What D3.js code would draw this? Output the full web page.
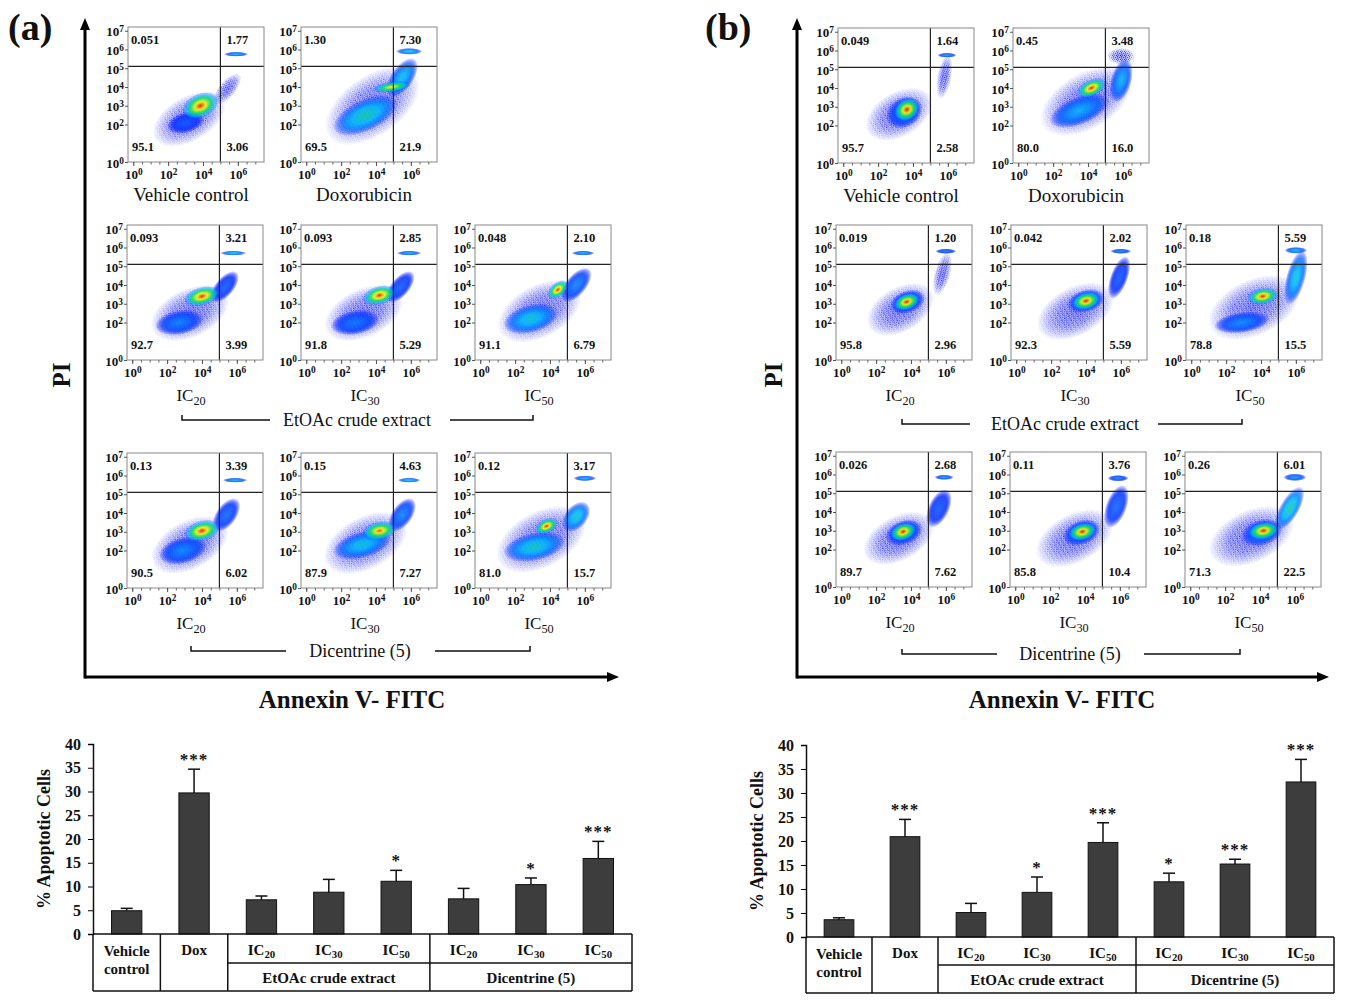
<!DOCTYPE html>
<html>
<head>
<meta charset="utf-8">
<script src="https://cdn.jsdelivr.net/npm/d3@7"></script>
<style>
body { margin: 0; background: #fff; }
svg text { font-family: "Liberation Serif", "Times New Roman", serif; fill: #111; }
</style>
</head>
<body>
<div id="chart"></div>
<script>
// ---------- data ----------
const flowNames = ["Vehicle control", "Doxorubicin", "IC|20", "IC|30", "IC|50", "IC|20", "IC|30", "IC|50"];

// quadrant percentages: [upper-left, upper-right, lower-left, lower-right]
const quadA = [
  ["0.051", "1.77", "95.1", "3.06"],
  ["1.30", "7.30", "69.5", "21.9"],
  ["0.093", "3.21", "92.7", "3.99"],
  ["0.093", "2.85", "91.8", "5.29"],
  ["0.048", "2.10", "91.1", "6.79"],
  ["0.13", "3.39", "90.5", "6.02"],
  ["0.15", "4.63", "87.9", "7.27"],
  ["0.12", "3.17", "81.0", "15.7"]
];
const quadB = [
  ["0.049", "1.64", "95.7", "2.58"],
  ["0.45", "3.48", "80.0", "16.0"],
  ["0.019", "1.20", "95.8", "2.96"],
  ["0.042", "2.02", "92.3", "5.59"],
  ["0.18", "5.59", "78.8", "15.5"],
  ["0.026", "2.68", "89.7", "7.62"],
  ["0.11", "3.76", "85.8", "10.4"],
  ["0.26", "6.01", "71.3", "22.5"]
];

// density clouds: [log10 x, log10 y, spread x, spread y (decades), tilt deg, peak density 0..1]
const cloudsA = [
  [[3.2, 2.3, 2.3, 1.2, -30, 0], [5.4, 3.9, 1.1, 0.45, -50, 0], [3.0, 2.1, 1.1, 0.55, -15, 0.12], [3.85, 3.0, 1.1, 0.65, -25, 1.0], [5.9, 5.75, 0.7, 0.13, 0, 0.3]],
  [[3.8, 3.0, 3.1, 1.6, -35, 0], [3.4, 2.5, 2.0, 0.85, -25, 0.45], [5.5, 4.5, 1.3, 0.6, -55, 0.35], [4.9, 4.0, 1.1, 0.28, -8, 0.85], [5.9, 5.9, 0.75, 0.18, 0, 0.35]],
  [[3.3, 2.5, 2.4, 1.3, -25, 0], [2.7, 2.0, 1.4, 0.65, -10, 0.2], [5.3, 3.9, 1.1, 0.5, -50, 0.12], [4.0, 3.4, 1.05, 0.5, -15, 1.0], [5.8, 5.7, 0.75, 0.13, 0, 0.35]],
  [[3.3, 2.5, 2.4, 1.3, -25, 0], [2.8, 2.0, 1.4, 0.65, -10, 0.18], [5.4, 3.9, 1.1, 0.5, -50, 0.12], [4.2, 3.45, 1.0, 0.5, -15, 1.0], [5.9, 5.7, 0.7, 0.13, 0, 0.3]],
  [[3.4, 2.6, 2.6, 1.4, -28, 0], [2.9, 2.2, 1.6, 0.75, -15, 0.4], [5.5, 4.0, 1.2, 0.55, -50, 0.2], [4.45, 3.75, 0.7, 0.38, -40, 1.0], [5.9, 5.7, 0.65, 0.13, 0, 0.3]],
  [[3.3, 2.3, 2.4, 1.3, -28, 0], [2.9, 2.0, 1.4, 0.7, -15, 0.22], [5.4, 3.9, 1.1, 0.55, -55, 0.15], [4.0, 3.05, 1.05, 0.55, -15, 1.0], [5.9, 5.75, 0.7, 0.13, 0, 0.3]],
  [[3.4, 2.4, 2.6, 1.4, -28, 0], [3.2, 2.3, 1.7, 0.7, -15, 0.38], [5.5, 3.9, 1.1, 0.55, -55, 0.2], [4.2, 3.05, 1.0, 0.5, -10, 0.95], [5.9, 5.75, 0.65, 0.13, 0, 0.35]],
  [[3.5, 2.6, 2.8, 1.5, -28, 0], [3.1, 2.2, 1.8, 0.75, -12, 0.42], [5.5, 3.8, 1.0, 0.6, -50, 0.4], [3.8, 3.3, 0.7, 0.38, -25, 1.0], [6.0, 5.85, 0.65, 0.15, 0, 0.3]]
];
const cloudsB = [
  [[3.2, 2.6, 2.1, 1.2, -30, 0], [5.8, 4.6, 0.4, 1.2, 10, 0], [3.5, 2.7, 1.1, 0.8, -30, 0.2], [3.65, 2.85, 0.8, 0.6, -35, 1.0], [5.95, 5.75, 0.55, 0.13, 0, 0.25]],
  [[3.9, 3.3, 2.9, 1.5, -30, 0], [3.5, 2.8, 1.8, 0.75, -22, 0.3], [5.9, 5.7, 0.8, 0.45, 0, 0], [5.9, 4.4, 0.6, 1.2, 15, 0.3], [4.2, 4.0, 0.9, 0.45, -25, 1.0]],
  [[3.4, 2.7, 2.1, 1.2, -30, 0], [5.8, 4.6, 0.45, 1.2, 15, 0], [3.8, 3.1, 1.05, 0.6, -20, 0.2], [3.75, 3.1, 0.8, 0.45, -20, 1.0], [6.0, 5.8, 0.6, 0.14, 0, 0.18]],
  [[3.4, 2.6, 2.4, 1.3, -28, 0], [5.9, 4.4, 0.5, 1.2, 20, 0.12], [4.0, 3.15, 1.1, 0.6, -15, 0.25], [4.0, 3.15, 0.85, 0.48, -15, 1.0], [6.0, 5.8, 0.6, 0.14, 0, 0.22]],
  [[3.6, 2.8, 2.8, 1.5, -25, 0], [2.9, 2.0, 1.6, 0.55, -8, 0.22], [6.0, 4.4, 0.55, 1.5, 15, 0.38], [4.1, 3.4, 0.9, 0.45, -10, 1.0], [6.0, 5.85, 0.65, 0.18, 0, 0.3]],
  [[3.3, 2.6, 2.2, 1.2, -28, 0], [5.6, 4.2, 0.6, 1.1, 25, 0.12], [3.6, 2.9, 1.1, 0.65, -20, 0.2], [3.55, 2.95, 0.8, 0.48, -20, 1.0], [5.9, 5.85, 0.55, 0.14, 0, 0.25]],
  [[3.4, 2.6, 2.4, 1.3, -28, 0], [5.8, 4.3, 0.6, 1.2, 20, 0.15], [3.8, 2.9, 1.1, 0.65, -20, 0.22], [3.85, 2.95, 0.85, 0.48, -15, 1.0], [5.9, 5.8, 0.6, 0.17, 0, 0.2]],
  [[3.5, 2.7, 2.6, 1.4, -25, 0], [5.7, 4.2, 0.55, 1.3, 30, 0.45], [4.1, 2.9, 1.2, 0.7, -15, 0.25], [4.2, 3.0, 0.9, 0.48, -10, 1.0], [6.0, 5.85, 0.65, 0.2, 0, 0.25]]
];

const flowYTicks = [1, 1e2, 1e3, 1e4, 1e5, 1e6, 1e7];
const flowXTicks = [1, 1e2, 1e4, 1e6];
const gateX = 1e5, gateY = Math.pow(10, 5.1);

// bar charts (% apoptotic cells, mean and SD)
const barCats = ["Vehicle control", "Dox", "EtOAc IC20", "EtOAc IC30", "EtOAc IC50", "Dicentrine IC20", "Dicentrine IC30", "Dicentrine IC50"];
const barA = [4.9, 29.7, 7.2, 8.8, 11.1, 7.4, 10.4, 15.9];
const errA = [0.5, 5.0, 0.8, 2.7, 2.3, 2.2, 1.4, 3.6];
const starsA = ["", "***", "", "", "*", "", "*", "***"];
const barB = [3.6, 20.9, 5.1, 9.3, 19.7, 11.5, 15.2, 32.3];
const errB = [0.4, 3.6, 1.9, 3.2, 4.1, 1.8, 1.0, 4.7];
const starsB = ["", "***", "", "*", "***", "*", "***", "***"];
const barTicks = [0, 5, 10, 15, 20, 25, 30, 35, 40];
const tableRow1 = ["", "Dox", "IC|20", "IC|30", "IC|50", "IC|20", "IC|30", "IC|50"];
const tableGroups = [["EtOAc crude extract", 2, 5], ["Dicentrine  (5)", 5, 8]];

// ---------- layout ----------
const flowW = 136, flowH = 135;
const panels = [
  {
    key: "a", letterX: 8, quad: quadA, clouds: cloudsA,
    pos: [[128, 27], [301, 27], [127, 225], [301, 225], [475, 225], [127, 453], [301, 453], [475, 453]],
    arrowX: 85, arrowY: 677, arrowTop: 18, arrowRight: 619, titleX: 352,
    brackets: [
      {y: 420, x1: 182, x2: 270, x3: 450, x4: 533, tx: 357, label: "EtOAc crude extract"},
      {y: 651, x1: 191, x2: 286, x3: 435, x4: 530, tx: 360, label: "Dicentrine (5)"}
    ],
    bar: {left: 93, right: 632, top: 744, bottom: 934, sep: 963, tableBottom: 991, labelX: 50,
      values: barA, errs: errA, stars: starsA}
  },
  {
    key: "b", letterX: 705, quad: quadB, clouds: cloudsB,
    pos: [[838, 28], [1013, 28], [836, 225], [1011, 225], [1186, 225], [836, 452], [1010, 452], [1185, 452]],
    arrowX: 797, arrowY: 677, arrowTop: 18, arrowRight: 1329, titleX: 1062,
    brackets: [
      {y: 424, x1: 902, x2: 970, x3: 1158, x4: 1242, tx: 1065, label: "EtOAc crude extract"},
      {y: 654, x1: 902, x2: 997, x3: 1144, x4: 1240, tx: 1070, label: "Dicentrine (5)"}
    ],
    bar: {left: 806, right: 1334, top: 745, bottom: 937, sep: 965, tableBottom: 993, labelX: 763,
      values: barB, errs: errB, stars: starsB}
  }
];

const svg = d3.select("#chart").append("svg")
  .attr("width", 1345)
  .attr("height", 1002);
const defs = svg.append("defs");

// flow cytometry style pseudo-colour
const jet = d3.scaleLinear()
  .domain([0, 0.3, 0.55, 0.78, 1])
  .range(["#0a10ff", "#00b8ff", "#10e060", "#ffff00", "#ff1000"]);

// scattered dots for the sparse part of a cloud
const dotPat = defs.append("pattern")
  .attr("id", "dots")
  .attr("patternUnits", "userSpaceOnUse")
  .attr("width", 4).attr("height", 4);
[[0.6, 0.7], [2.7, 1.4], [1.5, 3.1], [3.5, 3.4], [0.2, 2.2]].forEach(p => {
  dotPat.append("circle").attr("cx", p[0]).attr("cy", p[1]).attr("r", 0.6).attr("fill", "#1010ff");
});
const fadeW = defs.append("radialGradient").attr("id", "fadeW");
fadeW.append("stop").attr("offset", 0).attr("stop-color", "#fff");
fadeW.append("stop").attr("offset", 0.5).attr("stop-color", "#ddd");
fadeW.append("stop").attr("offset", 1).attr("stop-color", "#000");
defs.append("mask").attr("id", "fadeMask")
  .attr("maskContentUnits", "objectBoundingBox")
  .append("rect").attr("width", 1).attr("height", 1).attr("fill", "url(#fadeW)");
const tint = defs.append("radialGradient").attr("id", "tint");
tint.append("stop").attr("offset", 0).attr("stop-color", "#2030ff").attr("stop-opacity", 0.4);
tint.append("stop").attr("offset", 0.6).attr("stop-color", "#2030ff").attr("stop-opacity", 0.2);
tint.append("stop").attr("offset", 1).attr("stop-color", "#2030ff").attr("stop-opacity", 0);
const baseLine = defs.append("linearGradient").attr("id", "baseLine");
[["0", "#4060ff"], ["0.4", "#00c0e0"], ["0.7", "#20d060"], ["1", "#4060ff"]].forEach(s => {
  baseLine.append("stop").attr("offset", s[0]).attr("stop-color", s[1]);
});

// text with "IC|20" style subscript
function subText(sel, label) {
  const parts = label.split("|");
  sel.text(parts[0]);
  if (parts[1]) {
    sel.append("tspan").attr("dy", "0.3em").attr("font-size", "0.72em").text(parts[1]);
  }
}

function powerLabels(axisG) {
  axisG.selectAll(".tick text").each(function(d) {
    const t = d3.select(this);
    t.text("10");
    t.append("tspan").attr("dy", "-0.45em").attr("font-size", "0.72em").text(Math.round(Math.log10(d)));
  });
}

function flowPlot(g, id, quad, clouds) {
  const x = d3.scaleLog().domain([Math.pow(10, -0.3), Math.pow(10, 7.5)]).range([0, flowW]);
  const y = d3.scaleLog().domain([1, Math.pow(10, 7.2)]).range([flowH, 0]);
  const px = x(10) - x(1), py = y(1) - y(10);

  defs.append("clipPath").attr("id", "clip-" + id)
    .append("rect").attr("width", flowW).attr("height", flowH);
  const body = g.append("g").attr("clip-path", "url(#clip-" + id + ")");

  clouds.forEach((c, i) => {
    const cx = x(Math.pow(10, c[0])), cy = y(Math.pow(10, c[1]));
    const rx = c[2] * px, ry = c[3] * py;
    const rot = "rotate(" + c[4] + "," + cx + "," + cy + ")";
    if (c[5] === 0) {
      body.append("ellipse").attr("cx", cx).attr("cy", cy).attr("rx", rx).attr("ry", ry)
        .attr("transform", rot).attr("fill", "url(#tint)");
      body.append("ellipse").attr("cx", cx).attr("cy", cy).attr("rx", rx).attr("ry", ry)
        .attr("transform", rot).attr("fill", "url(#dots)").attr("mask", "url(#fadeMask)");
    } else {
      const gid = "grad-" + id + "-" + i;
      const grad = defs.append("radialGradient").attr("id", gid);
      const base = 0.88;
      d3.range(0, 1.01, 0.1).forEach(o => {
        const fade = o < 0.6 ? 1 : 1 - Math.pow((o - 0.6) / 0.4, 1.5);
        grad.append("stop")
          .attr("offset", o)
          .attr("stop-color", jet(c[5] * Math.pow(1 - o, 0.75)))
          .attr("stop-opacity", base * fade);
      });
      body.append("ellipse").attr("cx", cx).attr("cy", cy).attr("rx", rx).attr("ry", ry)
        .attr("transform", rot).attr("fill", "url(#" + gid + ")");
    }
  });

  // events piled up on the axis
  body.append("line")
    .attr("x1", x(Math.pow(10, 0.6))).attr("x2", x(Math.pow(10, 5.6)))
    .attr("y1", flowH - 1).attr("y2", flowH - 1)
    .attr("stroke", "url(#baseLine)").attr("stroke-width", 2);

  // quadrant gates
  g.append("line").attr("x1", x(gateX)).attr("x2", x(gateX)).attr("y1", 0).attr("y2", flowH)
    .attr("stroke", "#222").attr("stroke-width", 1.2);
  g.append("line").attr("x1", 0).attr("x2", flowW).attr("y1", y(gateY)).attr("y2", y(gateY))
    .attr("stroke", "#222").attr("stroke-width", 1.2);

  g.append("rect").attr("width", flowW).attr("height", flowH)
    .attr("fill", "none").attr("stroke", "#888").attr("stroke-width", 1);

  // axes
  const yAxis = g.append("g")
    .call(d3.axisLeft(y).tickValues(flowYTicks).tickSize(3).tickPadding(1).tickFormat(""));
  yAxis.select(".domain").remove();
  yAxis.selectAll("line").attr("stroke", "#555");
  yAxis.selectAll("text").attr("font-size", 13).attr("font-weight", "bold").attr("dy", "0.4em");
  powerLabels(yAxis);

  const xMinor = g.append("g").attr("transform", "translate(0," + flowH + ")")
    .call(d3.axisBottom(x).tickValues(d3.range(0, 15).map(k => Math.pow(10, k / 2))).tickSize(2.5).tickFormat(""));
  xMinor.select(".domain").remove();
  xMinor.selectAll("line").attr("stroke", "#666");

  const xAxis = g.append("g").attr("transform", "translate(0," + flowH + ")")
    .call(d3.axisBottom(x).tickValues(flowXTicks).tickSize(4).tickPadding(4).tickFormat(""));
  xAxis.select(".domain").remove();
  xAxis.selectAll("line").attr("stroke", "#555");
  xAxis.selectAll("text").attr("font-size", 13).attr("font-weight", "bold");
  powerLabels(xAxis);

  // quadrant percentages
  const qt = [
    [3, 17, quad[0]], [x(gateX) + 6, 17, quad[1]],
    [4, flowH - 11, quad[2]], [x(gateX) + 6, flowH - 11, quad[3]]
  ];
  qt.forEach(q => {
    g.append("text").attr("x", q[0]).attr("y", q[1])
      .attr("font-size", 12.5).attr("font-weight", "bold").text(q[2]);
  });
}

function barChart(b) {
  const x = d3.scaleBand().domain(d3.range(barCats.length))
    .range([b.left, b.right]).paddingInner(0.55).paddingOuter(0.275);
  const step = x.step();
  const y = d3.scaleLinear().domain([0, 40]).range([b.bottom, b.top]);
  const g = svg.append("g");

  g.selectAll("rect.bar").data(b.values).join("rect")
    .attr("class", "bar")
    .attr("x", (d, i) => x(i)).attr("width", x.bandwidth())
    .attr("y", d => y(d)).attr("height", d => y(0) - y(d))
    .attr("fill", "#3d3d3d").attr("stroke", "#111").attr("stroke-width", 1);

  // upper error bars
  b.values.forEach((v, i) => {
    const cx = x(i) + x.bandwidth() / 2;
    const top = y(v + b.errs[i]);
    g.append("line").attr("x1", cx).attr("x2", cx).attr("y1", y(v)).attr("y2", top)
      .attr("stroke", "#111").attr("stroke-width", 1.5);
    g.append("line").attr("x1", cx - 6).attr("x2", cx + 6).attr("y1", top).attr("y2", top)
      .attr("stroke", "#111").attr("stroke-width", 1.5);
    if (b.stars[i]) {
      g.append("text").attr("x", cx).attr("y", top - 4)
        .attr("text-anchor", "middle").attr("font-size", 17).attr("font-weight", "bold")
        .attr("letter-spacing", 1)
        .text(b.stars[i]);
    }
  });

  const yAxis = g.append("g").attr("transform", "translate(" + b.left + ",0)")
    .call(d3.axisLeft(y).tickValues(barTicks).tickSize(5).tickPadding(7));
  yAxis.select(".domain").attr("stroke", "#111").attr("stroke-width", 1.5);
  yAxis.selectAll("text").attr("font-size", 16).attr("font-weight", "bold");

  g.append("text")
    .attr("transform", "translate(" + b.labelX + "," + ((b.top + b.bottom) / 2) + ") rotate(-90)")
    .attr("text-anchor", "middle").attr("font-size", 18).attr("font-weight", "bold")
    .text("% Apoptotic Cells");

  // category table under the axis
  const edge = i => b.left + i * step;
  const tl = g.append("g").attr("stroke", "#111").attr("stroke-width", 1.5);
  tl.append("line").attr("x1", b.left).attr("x2", b.right).attr("y1", b.bottom).attr("y2", b.bottom);
  tl.append("line").attr("x1", b.left).attr("x2", b.right).attr("y1", b.tableBottom).attr("y2", b.tableBottom);
  tl.append("line").attr("x1", edge(2)).attr("x2", b.right).attr("y1", b.sep).attr("y2", b.sep);
  [0, 1, 2, 5, 8].forEach(i => {
    tl.append("line").attr("x1", edge(i)).attr("x2", edge(i)).attr("y1", b.bottom).attr("y2", b.tableBottom);
  });

  const cx0 = x(0) + x.bandwidth() / 2;
  g.append("text").attr("x", cx0).attr("y", b.bottom + 22).attr("text-anchor", "middle")
    .attr("font-size", 15).attr("font-weight", "bold").text("Vehicle");
  g.append("text").attr("x", cx0).attr("y", b.bottom + 40).attr("text-anchor", "middle")
    .attr("font-size", 15).attr("font-weight", "bold").text("control");
  tableRow1.forEach((lab, i) => {
    if (!lab) return;
    const t = g.append("text").attr("x", x(i) + x.bandwidth() / 2).attr("y", b.bottom + 21)
      .attr("text-anchor", "middle").attr("font-size", 15).attr("font-weight", "bold");
    subText(t, lab);
  });
  tableGroups.forEach(gr => {
    g.append("text").attr("x", (edge(gr[1]) + edge(gr[2])) / 2).attr("y", b.sep + 20)
      .attr("text-anchor", "middle").attr("font-size", 15).attr("font-weight", "bold").text(gr[0]);
  });
}

panels.forEach(p => {
  svg.append("text").attr("x", p.letterX).attr("y", 40)
    .attr("font-size", 38).attr("font-weight", "bold").text("(" + p.key + ")");

  // PI / Annexin arrows
  const ag = svg.append("g");
  ag.append("line").attr("x1", p.arrowX).attr("x2", p.arrowX).attr("y1", p.arrowY + 1.5).attr("y2", p.arrowTop + 10)
    .attr("stroke", "#000").attr("stroke-width", 3);
  ag.append("path").attr("d", d3.line()([[p.arrowX - 5, p.arrowTop + 12], [p.arrowX, p.arrowTop], [p.arrowX + 5, p.arrowTop + 12]]) + "Z")
    .attr("fill", "#000");
  ag.append("line").attr("x1", p.arrowX).attr("x2", p.arrowRight - 10).attr("y1", p.arrowY).attr("y2", p.arrowY)
    .attr("stroke", "#000").attr("stroke-width", 3);
  ag.append("path").attr("d", d3.line()([[p.arrowRight - 12, p.arrowY - 5], [p.arrowRight, p.arrowY], [p.arrowRight - 12, p.arrowY + 5]]) + "Z")
    .attr("fill", "#000");
  svg.append("text")
    .attr("transform", "translate(" + (p.arrowX - 15) + ",375) rotate(-90)")
    .attr("text-anchor", "middle").attr("font-size", 25).attr("font-weight", "bold").text("PI");
  svg.append("text").attr("x", p.titleX).attr("y", 708)
    .attr("text-anchor", "middle").attr("font-size", 25).attr("font-weight", "bold").text("Annexin V- FITC");

  p.pos.forEach((pos, i) => {
    const g = svg.append("g").attr("transform", "translate(" + pos[0] + "," + pos[1] + ")");
    flowPlot(g, p.key + i, p.quad[i], p.clouds[i]);
    const t = g.append("text")
      .attr("x", flowW / 2 + (i < 2 ? -5 : -4))
      .attr("y", flowH + (i < 2 ? 39 : 41))
      .attr("text-anchor", "middle")
      .attr("font-size", i < 2 ? 19 : 17);
    subText(t, flowNames[i]);
  });

  p.brackets.forEach(br => {
    const bg = svg.append("g").attr("fill", "none").attr("stroke", "#111").attr("stroke-width", 1.5);
    bg.append("path").attr("d", d3.line()([[br.x1, br.y - 5], [br.x1, br.y], [br.x2, br.y]]));
    bg.append("path").attr("d", d3.line()([[br.x3, br.y], [br.x4, br.y], [br.x4, br.y - 5]]));
    svg.append("text").attr("x", br.tx).attr("y", br.y + 6)
      .attr("text-anchor", "middle").attr("font-size", 18).text(br.label);
  });

  barChart(p.bar);
});
</script>
</body>
</html>
